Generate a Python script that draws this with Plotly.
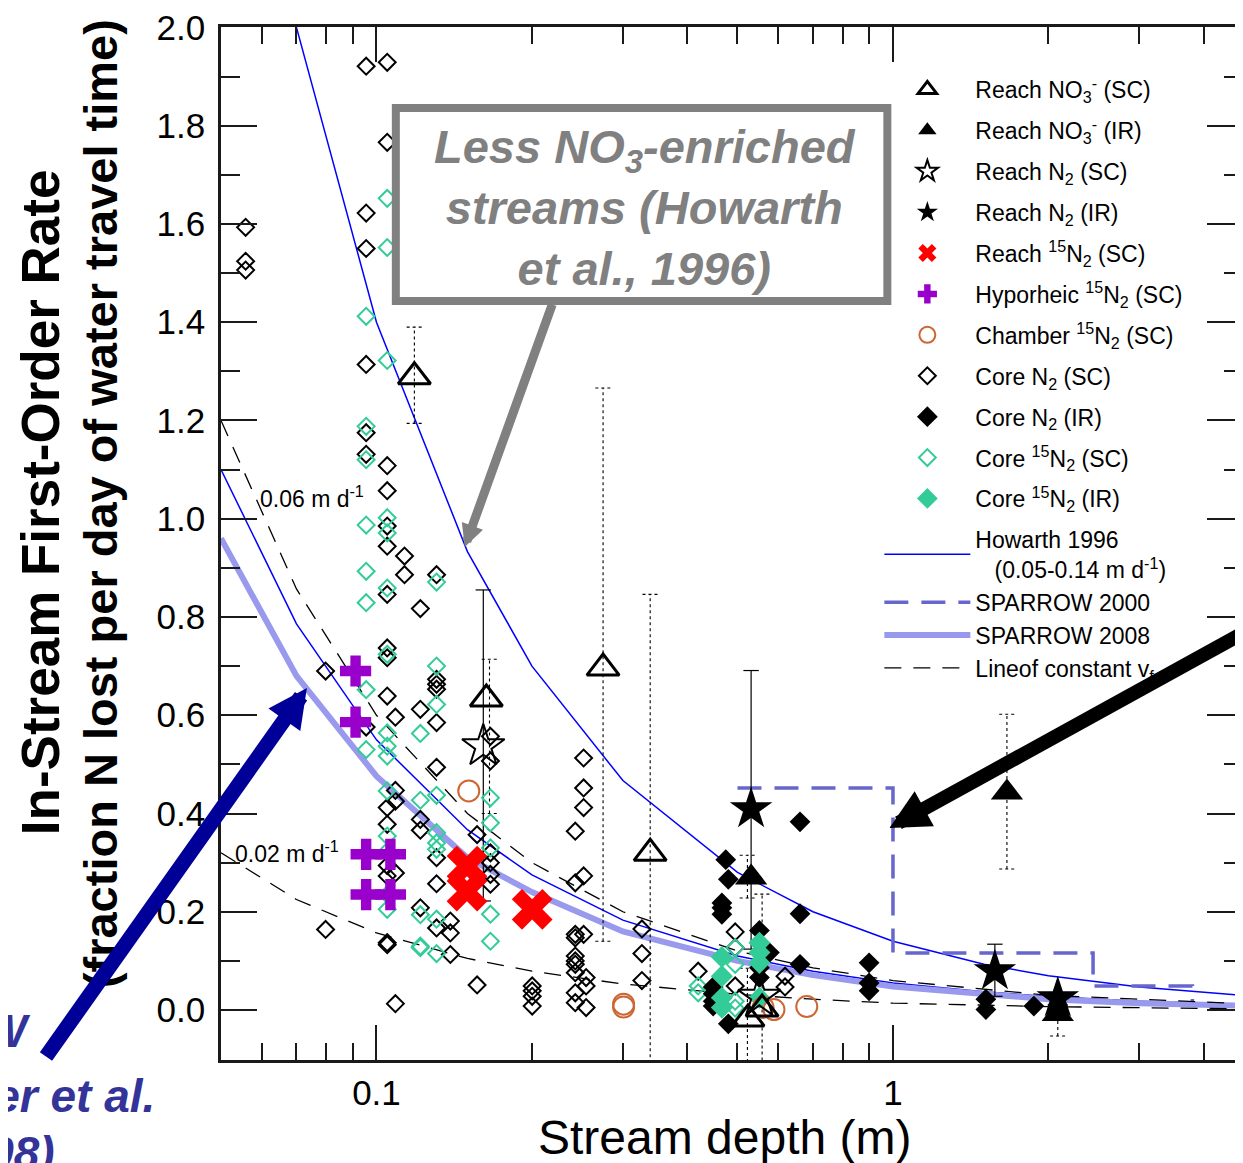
import plotly.graph_objects as go

# page body has a small margin, so the figure is drawn a few px in and down
OFF = 8
W, H = 1243 - OFF, 1163 - OFF
ML, MR, MT = 213, 0, 19
PW, PH = 1023, 1033
MB = H - MT - PH


def px(xp):
    """reference-image pixel x -> paper x"""
    return (xp - OFF - ML) / PW


def py(yp):
    """reference-image pixel y -> paper y"""
    return 1 - (yp - OFF - MT) / PH


FONT = "Liberation Sans, Arial, sans-serif"

# ---------------- data ----------------
reach_no3_sc_depth = [0.1184, 0.2746, 0.1632, 0.3388, 0.524, 0.558]
reach_no3_sc_rate = [1.289, 0.696, 0.633, 0.319, -0.018, 0.002]

reach_no3_ir_depth = [0.5313, 1.662, 2.085]
reach_no3_ir_rate = [0.270, 0.443, -0.008]

reach_n2_sc_depth = [0.1610, 0.551]
reach_n2_sc_rate = [0.537, 0.027]

reach_n2_ir_depth = [0.5313, 1.575, 2.085]
reach_n2_ir_rate = [0.409, 0.079, 0.024]

reach_15n2_depth = [0.1497, 0.1497, 0.2002]
reach_15n2_rate = [0.293, 0.242, 0.205]

hypo_depth = [0.0911, 0.0911, 0.0955, 0.1064, 0.0955, 0.1064]
hypo_rate = [0.690, 0.586, 0.317, 0.317, 0.235, 0.235]

chamber_depth = [0.1509, 0.3009, 0.3009, 0.5605, 0.5883, 0.6809]
chamber_rate = [0.446, 0.012, 0.006, 0.005, 0.001, 0.007]

core_n2_sc_depth = [
    0.0558, 0.0558, 0.0558,
    0.0797, 0.0797,
    0.0955, 0.0955, 0.0955, 0.0955, 0.0955, 0.0955, 0.0955,
    0.1049, 0.1049, 0.1049, 0.1049, 0.1049, 0.1049, 0.1049, 0.1049,
    0.1049, 0.1049, 0.1049, 0.1049, 0.1049, 0.1049, 0.1049, 0.1049,
    0.1088, 0.1088, 0.1088, 0.1088, 0.1088,
    0.1133, 0.1133, 0.1133,
    0.1216, 0.1216, 0.1216, 0.1216, 0.1216,
    0.1307, 0.1307, 0.1307, 0.1307, 0.1307, 0.1307, 0.1307, 0.1307, 0.1307,
    0.1390, 0.1390, 0.1390,
    0.1566, 0.1566,
    0.1662, 0.1662, 0.1662, 0.1662, 0.1662, 0.1662,
    0.2002, 0.2002, 0.2002, 0.2002,
    0.2426, 0.2426, 0.2426, 0.2426, 0.2426, 0.2426, 0.2426, 0.2426, 0.2426, 0.2426,
    0.2518, 0.2518, 0.2518, 0.2518, 0.2518,
    0.2546, 0.2546, 0.2546,
    0.3265, 0.3265, 0.3265,
    0.4196,
    0.4949, 0.4949, 0.4949,
    0.618, 0.618,
]
core_n2_sc_rate = [
    1.593, 1.524, 1.506,
    0.690, 0.164,
    1.921, 1.622, 1.550, 1.314, 1.175, 1.131, 0.576,
    1.929, 1.766, 1.108, 1.057, 0.985, 0.944, 0.846, 0.737,
    0.717, 0.639, 0.412, 0.378, 0.294, 0.273, 0.137, 0.133,
    0.596, 0.447, 0.425, 0.279, 0.013,
    1.536, 0.924, 0.886,
    0.817, 0.612, 0.388, 0.366, 0.208,
    0.886, 0.673, 0.663, 0.653, 0.585, 0.494, 0.310, 0.257, 0.167,
    0.181, 0.157, 0.113,
    0.357, 0.051,
    0.557, 0.507, 0.320, 0.300, 0.276, 0.256,
    0.049, 0.039, 0.028, 0.008,
    0.364, 0.259, 0.154, 0.147, 0.110, 0.100, 0.093, 0.076, 0.035, 0.015,
    0.513, 0.452, 0.412, 0.273, 0.154,
    0.066, 0.049, 0.005,
    0.165, 0.115, 0.060,
    0.079,
    0.159, 0.127, 0.049,
    0.069, 0.047,
]

core_n2_ir_depth = [
    0.4486, 0.4486, 0.4486, 0.4486,
    0.4664, 0.4664, 0.4664,
    0.4745,
    0.480, 0.480,
    0.5513, 0.5513, 0.5513,
    0.5764,
    0.6607, 0.6607, 0.6607,
    0.899, 0.899, 0.899,
    1.513, 1.513,
    1.874,
    2.085,
]
core_n2_ir_rate = [
    0.047, 0.033, 0.018, 0.008,
    0.218, 0.208, 0.195,
    0.306,
    0.266, -0.028,
    0.162, 0.086, 0.066,
    0.117,
    0.383, 0.196, 0.093,
    0.096, 0.055, 0.039,
    0.022, 0.001,
    0.008,
    0.010,
]

core_15n2_sc_depth = [
    0.0955, 0.0955, 0.0955, 0.0955, 0.0955, 0.0955, 0.0955, 0.0955,
    0.1049, 0.1049, 0.1049, 0.1049, 0.1049, 0.1049, 0.1049, 0.1049,
    0.1049, 0.1049, 0.1049, 0.1049, 0.1049, 0.1049, 0.1049,
    0.1216, 0.1216, 0.1216, 0.1216, 0.1216,
    0.1307, 0.1307, 0.1307, 0.1307, 0.1307, 0.1307, 0.1307, 0.1307, 0.1307,
    0.1662, 0.1662, 0.1662, 0.1662, 0.1662,
    0.4196, 0.4196,
    0.4949, 0.4949, 0.4949, 0.4949,
]
core_15n2_sc_rate = [
    1.412, 1.188, 1.120, 0.987, 0.893, 0.829, 0.652, 0.530,
    1.652, 1.552, 1.322, 1.002, 0.971, 0.859, 0.724, 0.564,
    0.537, 0.517, 0.446, 0.354, 0.323, 0.235, 0.205,
    0.563, 0.427, 0.194, 0.130, 0.127,
    0.871, 0.700, 0.622, 0.437, 0.361, 0.340, 0.327, 0.185, 0.115,
    0.432, 0.381, 0.330, 0.195, 0.140,
    0.049, 0.035,
    0.127, 0.093, 0.018, 0.004,
]

core_15n2_ir_depth = [0.4664, 0.4664, 0.4664, 0.4664, 0.5513, 0.5513, 0.5513, 0.5513]
core_15n2_ir_rate = [0.108, 0.069, 0.025, 0.005, 0.137, 0.117, 0.096, 0.025]

# error bars (depth, low, high)
eb_solid_depth = [0.1610, 0.5313, 1.575]
eb_solid_lo = [0.222, 0.124, 0.028]
eb_solid_hi = [0.855, 0.691, 0.134]

eb_dash_depth = [0.1184, 0.2746, 0.1655, 0.3388, 0.5226, 0.558, 0.5226, 1.662, 2.085]
eb_dash_lo = [1.194, 0.140, 0.400, -0.206, 0.228, -0.225, -0.118, 0.287, -0.053]
eb_dash_hi = [1.390, 1.266, 0.714, 0.846, 0.315, 0.236, 0.085, 0.602, 0.035]

# model curves
curve_depth = [0.05, 0.07, 0.1, 0.15, 0.2, 0.3, 0.5, 0.7, 1.0, 1.5, 2.0, 3.0, 5.0]
howarth_hi_depth = [0.065, 0.07, 0.1, 0.15, 0.2, 0.3, 0.5, 0.7, 1.0, 1.5, 2.0, 3.0, 5.0]
howarth_hi_rate = [2.154, 2.0, 1.4, 0.933, 0.70, 0.467, 0.28, 0.20, 0.14, 0.093, 0.07, 0.047, 0.028]
howarth_lo_rate = [1.10, 0.786, 0.55, 0.367, 0.275, 0.183, 0.11, 0.079, 0.055, 0.037, 0.0275, 0.018, 0.011]
sparrow2008_rate = [0.96, 0.68, 0.476, 0.31, 0.24, 0.16, 0.10, 0.071, 0.048, 0.032, 0.022, 0.014, 0.008]

vf_depth = [0.05, 0.07, 0.1, 0.15, 0.2, 0.3, 0.5, 0.7, 1.0, 2.0, 5.0]
vf06_rate = [1.2, 0.857, 0.6, 0.4, 0.3, 0.2, 0.12, 0.086, 0.06, 0.03, 0.012]
vf02_rate = [0.32, 0.225, 0.157, 0.105, 0.079, 0.053, 0.032, 0.022, 0.014, 0.007, 0.002]

sparrow2000_depth = [0.5, 1.0, 1.0, 2.44, 2.44, 3.8, 3.8]
sparrow2000_rate = [0.452, 0.452, 0.116, 0.116, 0.049, 0.049, 0.012]

x_ticks = [0.1, 1]
x_ticklabels = ["0.1", "1"]
x_minor = [0.06, 0.07, 0.08, 0.09, 0.2, 0.3, 0.4, 0.5, 0.6, 0.7, 0.8, 0.9, 2, 3, 4]

# ---------------- figure ----------------
fig = go.Figure()


def join_gap(xa, ya, xb, yb):
    return list(xa) + [None] + list(xb), list(ya) + [None] + list(yb)


hx, hy = join_gap(howarth_hi_depth, howarth_hi_rate, curve_depth, howarth_lo_rate)
fig.add_trace(go.Scatter(x=hx, y=hy, mode="lines", line=dict(color="#0000ff", width=1.5),
                         name="Howarth 1996<br>&nbsp;&nbsp;&nbsp;(0.05-0.14 m d<sup>-1</sup>)",
                         legendrank=12, legendgroup="lines"))
fig.add_trace(go.Scatter(x=sparrow2000_depth, y=sparrow2000_rate, mode="lines",
                         line=dict(color="#6666cc", width=3.5, dash="24px,13px"),
                         name="SPARROW 2000", legendrank=13, legendgroup="lines"))
fig.add_trace(go.Scatter(x=curve_depth, y=sparrow2008_rate, mode="lines",
                         line=dict(color="#9999ee", width=6),
                         name="SPARROW 2008", legendrank=14, legendgroup="lines"))
vx, vy = join_gap(vf_depth, vf06_rate, vf_depth, vf02_rate)
fig.add_trace(go.Scatter(x=vx, y=vy, mode="lines",
                         line=dict(color="black", width=1.3, dash="17px,12px"),
                         name="Lineof constant v<sub>f</sub>", legendrank=15, legendgroup="lines"))


def errbars(xs, los, his, cap=1.035):
    X, Y = [], []
    for x, lo, hi in zip(xs, los, his):
        X += [x, x, None, x / cap, x * cap, None, x / cap, x * cap, None]
        Y += [lo, hi, None, hi, hi, None, lo, lo, None]
    return X, Y


ex, ey = errbars(eb_solid_depth, eb_solid_lo, eb_solid_hi)
fig.add_trace(go.Scatter(x=ex, y=ey, mode="lines", line=dict(color="black", width=1.2),
                         showlegend=False, hoverinfo="skip"))
ex, ey = errbars(eb_dash_depth, eb_dash_lo, eb_dash_hi)
fig.add_trace(go.Scatter(x=ex, y=ey, mode="lines",
                         line=dict(color="black", width=1.1, dash="3px,3px"),
                         showlegend=False, hoverinfo="skip"))

GREEN = "#33cc99"


def pts(x, y, name, rank, symbol, size, color, lw=0, lcolor=None):
    fig.add_trace(go.Scatter(
        x=x, y=y, mode="markers", name=name, legendrank=rank, legendgroup="g%d" % rank,
        cliponaxis=False,
        marker=dict(symbol=symbol, size=size, color=color,
                    line=dict(width=lw, color=lcolor if lcolor else color))))


pts(core_n2_sc_depth, core_n2_sc_rate, "Core N<sub>2</sub> (SC)", 8, "diamond-open", 13, "black", 2)
pts(core_15n2_sc_depth, core_15n2_sc_rate, "Core <sup>15</sup>N<sub>2</sub> (SC)", 10, "diamond-open", 13, GREEN, 2)
pts(core_n2_ir_depth, core_n2_ir_rate, "Core N<sub>2</sub> (IR)", 9, "diamond", 16, "black")
pts(core_15n2_ir_depth, core_15n2_ir_rate, "Core <sup>15</sup>N<sub>2</sub> (IR)", 11, "diamond", 17, GREEN)
pts(chamber_depth, chamber_rate, "Chamber <sup>15</sup>N<sub>2</sub> (SC)", 7, "circle-open", 21, "#cc6633", 2)
pts(hypo_depth, hypo_rate, "Hyporheic <sup>15</sup>N<sub>2</sub> (SC)", 6, "cross", 26, "#9900cc")
pts(reach_15n2_depth, reach_15n2_rate, "Reach <sup>15</sup>N<sub>2</sub> (SC)", 5, "x", 36, "#ff0000")
pts(reach_n2_sc_depth, reach_n2_sc_rate, "Reach N<sub>2</sub> (SC)", 3, "star-open", 32, "black", 2)
pts(reach_n2_ir_depth, reach_n2_ir_rate, "Reach N<sub>2</sub> (IR)", 4, "star", 32, "black")
pts(reach_no3_sc_depth, reach_no3_sc_rate, "Reach NO<sub>3</sub><sup>-</sup> (SC)", 1, "triangle-up-open", 28, "black", 3)
pts(reach_no3_ir_depth, reach_no3_ir_rate, "Reach NO<sub>3</sub><sup>-</sup> (IR)", 2, "triangle-up", 28, "black")

axis_common = dict(showline=True, linecolor="#1a1a1a", linewidth=2.5, mirror="allticks",
                   ticks="inside", tickcolor="#1a1a1a", tickwidth=2,
                   showgrid=False, zeroline=False, ticklabeloverflow="allow",
                   tickfont=dict(family=FONT, size=35, color="black"))

fig.update_xaxes(type="log", range=[-1.30103, 0.6777], tickvals=x_ticks, ticktext=x_ticklabels,
                 ticklen=35, ticklabelstandoff=0,
                 minor=dict(tickvals=x_minor, ticks="inside", ticklen=17, tickwidth=2,
                            tickcolor="#1a1a1a", showgrid=False),
                 **axis_common)
fig.update_yaxes(range=[-0.1017, 2.0008], tick0=0, dtick=0.2, tickformat=".1f",
                 ticklen=36, ticklabelstandoff=6,
                 minor=dict(dtick=0.1, ticks="inside", ticklen=19, tickwidth=2,
                            tickcolor="#1a1a1a", showgrid=False),
                 **axis_common)


def label(text, x, y, size, color="black", xanchor="center", angle=0):
    return dict(text=text, x=px(x), y=py(y), xref="paper", yref="paper",
                xanchor=xanchor, yanchor="middle", textangle=angle, showarrow=False,
                font=dict(family=FONT, size=size, color=color))


def arrow(x, y, ax, ay, width, size, color):
    return dict(text="", x=px(x), y=py(y), xref="paper", yref="paper", showarrow=True,
                ax=ax, ay=ay, arrowhead=2, arrowsize=size, arrowwidth=width,
                arrowcolor=color, standoff=0)


annotations = [
    label("Stream depth (m)", 725, 1137, 48),
    label("<b>In-Stream First-Order Rate</b>", 40, 502, 53, angle=-90),
    label("<b>(fraction N lost per day of water travel time)</b>", 100, 504, 47, angle=-90),
    label("0.06 m d<sup>-1</sup>", 258, 497, 23, xanchor="left"),
    label("0.02 m d<sup>-1</sup>", 233, 852, 23, xanchor="left"),
    label("<b><i>Less NO<sub>3</sub>-enriched<br>streams (Howarth<br>et al., 1996)</i></b>",
          645, 208, 47, color="#808080"),
    label("<b><i>SPARROW</i></b>", 32, 1031, 46, color="#333399", xanchor="right"),
    label("<b><i>(Alexander et al.</i></b>", 157, 1096, 46, color="#333399", xanchor="right"),
    label("<b><i>2008)</i></b>", 57, 1153, 46, color="#333399", xanchor="right"),
    arrow(465, 547, 88, -244, 9, 0.5, "#808080"),
    arrow(307, 688, -262, 370, 15, 0.52, "#000099"),
    arrow(890, 828, 373, -195, 14, 0.57, "black"),
]

shapes = [
    dict(type="rect", xref="paper", yref="paper", x0=px(396), x1=px(888), y0=py(108), y1=py(301),
         line=dict(color="#808080", width=8), fillcolor="white", layer="above"),
]

fig.update_layout(
    width=W, height=H, autosize=False,
    margin=dict(l=ML, r=MR, t=MT, b=MB, autoexpand=False),
    paper_bgcolor="white", plot_bgcolor="white",
    font=dict(family=FONT, color="black"),
    showlegend=True,
    legend=dict(x=px(880), y=py(68), xanchor="left", yanchor="top",
                bgcolor="rgba(0,0,0,0)", borderwidth=0,
                font=dict(family=FONT, size=23, color="black"),
                itemwidth=86, traceorder="grouped", tracegroupgap=8,
                itemclick=False),
    annotations=annotations,
    shapes=shapes,
)

fig.write_html("out.html")
